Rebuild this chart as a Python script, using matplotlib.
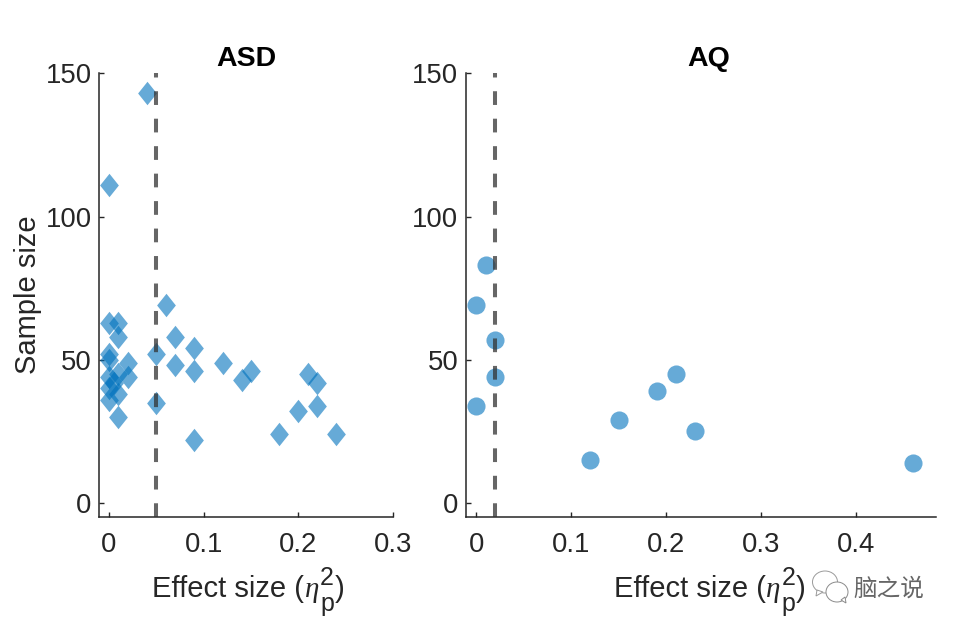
import matplotlib
matplotlib.use("Agg")
import matplotlib.pyplot as plt
from matplotlib.path import Path
from matplotlib.patches import Ellipse, Polygon

plt.rcParams["font.family"] = ["Liberation Sans", "Noto Sans CJK SC", "DejaVu Sans"]

# values
asd_effect = [0.04, 0, 0, 0.01, 0.01, 0, 0, 0.02, 0.01, 0.02, 0, 0, 0.005, 0.01, 0, 0.01,
              0.05, 0.05, 0.06, 0.07, 0.07, 0.09, 0.09, 0.09, 0.12, 0.14, 0.15, 0.18, 0.2, 0.21, 0.22, 0.22, 0.24]
asd_n = [143, 111, 63, 63, 58, 52, 50, 49, 45, 44, 44, 40, 42, 38, 36, 30,
         52, 35, 69, 58, 48, 54, 46, 22, 49, 43, 46, 24, 32, 45, 42, 34, 24]
aq_effect = [0, 0, 0.01, 0.02, 0.02, 0.12, 0.15, 0.19, 0.21, 0.23, 0.46]
aq_n = [34, 69, 83, 57, 44, 15, 29, 39, 45, 25, 14]

asd_cutoff = 0.05
aq_cutoff = 0.02
y_ticks = [0, 50, 100, 150]
asd_xticks = [0, 0.1, 0.2, 0.3]
aq_xticks = [0, 0.1, 0.2, 0.3, 0.4]

W, H = 954, 629
TOP, BOTTOM = 73.3, 517.3
YMIN, YMAX = -5, 150
BLUE = "#0072BD"
DARK = "#262626"
FS = 19.8
DIAMOND = Path([(-0.8, 0), (0, 1), (0.8, 0), (0, -1), (-0.8, 0)], closed=True)


def make_axes(left, right):
    # pixel box -> figure fraction
    return fig.add_axes([left / W, 1 - BOTTOM / H, (right - left) / W, (BOTTOM - TOP) / H])


def style_axes(ax, xlim, xticks):
    ax.set_xlim(*xlim)
    ax.set_ylim(YMIN, YMAX)
    ax.set_xticks(xticks)
    ax.set_xticklabels(["0" if t == 0 else f"{t:g}" for t in xticks])
    ax.set_yticks(y_ticks)
    ax.spines["top"].set_visible(False)
    ax.spines["right"].set_visible(False)
    for side in ["left", "bottom"]:
        ax.spines[side].set_linewidth(1.1)
        ax.spines[side].set_color(DARK)
    ax.tick_params(direction="in", length=3.6, width=1.0, color=DARK, labelcolor=DARK, labelsize=FS)
    ax.tick_params(axis="x", pad=10.5)
    ax.tick_params(axis="y", pad=5.5)


def cutoff_line(ax, x):
    ax.plot([x, x], [YMIN, YMAX], color="#333333", alpha=0.75, linewidth=2.9,
            linestyle=(0, (3.41, 3.41)), zorder=4, clip_on=False)


def effect_label(x0):
    # the script parts are nearly full size in the reference, so the label is set piece by piece
    overlay.text(x0, 597, "Effect size (", fontsize=21, color=DARK, ha="left", va="baseline")
    overlay.text(x0 + 152, 597, "η", fontsize=21, color=DARK, ha="left", va="baseline",
                 family="Liberation Serif", style="italic")
    overlay.text(x0 + 167.5, 585, "2", fontsize=18, color=DARK, ha="left", va="baseline")
    overlay.text(x0 + 167.5, 611, "p", fontsize=18, color=DARK, ha="left", va="baseline")
    overlay.text(x0 + 182, 597, ")", fontsize=21, color=DARK, ha="left", va="baseline")


fig = plt.figure(figsize=(W / 100, H / 100), dpi=100, facecolor="white")

ax1 = make_axes(99.3, 393)
ax1.scatter(asd_effect, asd_n, marker=DIAMOND, s=285, color=BLUE, alpha=0.6, linewidths=0, zorder=3, clip_on=False)
cutoff_line(ax1, asd_cutoff)
style_axes(ax1, (-0.0102, 0.3), asd_xticks)
ax1.set_ylabel("Sample size", fontsize=21, color=DARK, va="center")
ax1.yaxis.set_label_coords(-(99.3 - 28) / 293.7, 0.502)

ax2 = make_axes(466, 936)
ax2.scatter(aq_effect, aq_n, marker="o", s=170, color=BLUE, alpha=0.6, linewidths=0, zorder=3, clip_on=False)
cutoff_line(ax2, aq_cutoff)
style_axes(ax2, (-0.011, 0.484), aq_xticks)

# titles, labels and watermark in pixel coordinates
overlay = fig.add_axes([0, 0, 1, 1], facecolor="none")
overlay.set_xlim(0, W)
overlay.set_ylim(H, 0)
overlay.axis("off")
overlay.text(246, 66, "ASD", fontsize=20.5, fontweight="bold", color="black", ha="center", va="baseline")
overlay.text(708.5, 66, "AQ", fontsize=20.5, fontweight="bold", color="black", ha="center", va="baseline")
effect_label(152.5)
effect_label(614)

overlay.add_patch(Ellipse((825, 582), 25, 22, facecolor="white", edgecolor="#9a9a9a", linewidth=0.7))
overlay.add_patch(Polygon([(817, 590), (816, 596), (823, 592)], facecolor="white", edgecolor="#9a9a9a", linewidth=0.7))
overlay.add_patch(Ellipse((837, 592), 22, 20, facecolor="white", edgecolor="#8a8a8a", linewidth=0.7))
overlay.add_patch(Polygon([(841, 600), (846, 603), (845, 597)], facecolor="white", edgecolor="#8a8a8a", linewidth=0.7))
overlay.text(889, 589, "脑之说", fontsize=17, color="#666666", ha="center", va="center",
             family=["Noto Sans CJK SC", "DejaVu Sans"])

fig.savefig("out.png", dpi=100)
